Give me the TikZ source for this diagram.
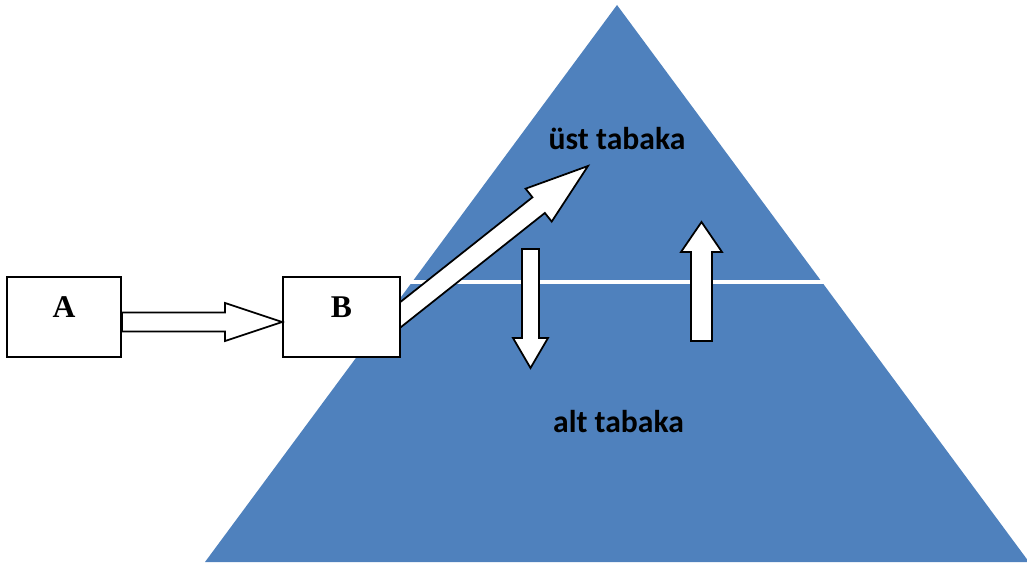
\documentclass[tikz,border=0pt]{standalone}
\usepackage{fontspec}
\setmainfont{Liberation Serif}
\newfontfamily\layerfont{Carlito}
\usetikzlibrary{calc,backgrounds}
\definecolor{pyrblue}{HTML}{4F81BD}
% hollow block arrow: start, tip, half shaft, half head, head length
\newcommand{\blockarrow}[5]{%
  \coordinate (bh) at ($(#2)!#5!(#1)$);
  \draw[arrowbox] ($(#1)!#3!90:(#2)$) -- ($(bh)!#3!-90:(#1)$) -- ($(bh)!#4!-90:(#1)$) -- (#2)
    -- ($(bh)!#4!90:(#1)$) -- ($(bh)!#3!90:(#1)$) -- ($(#1)!#3!-90:(#2)$) -- cycle;
}
\begin{document}
\begin{tikzpicture}[
		x=0.02cm, y=-0.02cm,
		box/.style={draw, line width=1.1pt, fill=white, minimum height=1.6cm,
			text height=12pt, text depth=11pt, font=\fontsize{18}{20}\selectfont\bfseries},
		layer/.style={anchor=base, font=\layerfont\fontsize{18}{20}\selectfont\bfseries},
		arrowbox/.style={draw, fill=white, line width=1pt, line join=miter}
	]
	\useasboundingbox (0,0) rectangle (1027,564);
	\node[box, minimum width=2.28cm] (A) at (64,317) {A};
	\node[box, minimum width=2.34cm] (B) at (341.5,317) {B};
	\begin{scope}[on background layer]
		\clip (0,0) rectangle (1027,564);
		\fill[pyrblue] (617,5) -- (1029,562) -- (205,562) -- cycle;
		\draw[white, line width=2.8pt] (400,282) -- (840,282);
		\coordinate (b-out) at ([shift={(-16,10)}]B.east);
		\coordinate (top-tip) at (588,166);
		\blockarrow{b-out}{top-tip}{0.2cm}{0.42cm}{1.26cm}
	\end{scope}
	\node[layer] (upper) at (617,150) {üst tabaka};
	\node[layer] (lower) at (618.5,432) {alt tabaka};
	\coordinate (a-out) at ([yshift=-0.1cm]A.east);
	\coordinate (b-in) at ([yshift=-0.1cm]B.west);
	\blockarrow{a-out}{b-in}{0.19cm}{0.38cm}{1.14cm}
	\coordinate (down-start) at (530.5,249);
	\coordinate (down-tip) at (530.5,368);
	\blockarrow{down-start}{down-tip}{0.17cm}{0.35cm}{0.6cm}
	\coordinate (up-start) at (701.5,341);
	\coordinate (up-tip) at (701.5,222);
	\blockarrow{up-start}{up-tip}{0.21cm}{0.41cm}{0.6cm}
\end{tikzpicture}
\end{document}
